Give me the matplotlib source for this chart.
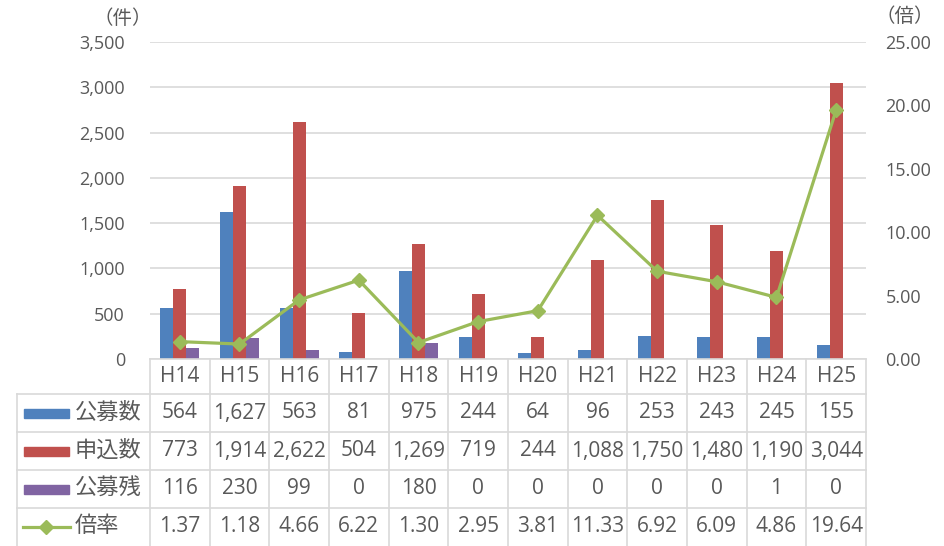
import numpy as np
import matplotlib
matplotlib.use("Agg")
from matplotlib import pyplot as plt
from matplotlib.lines import Line2D
from matplotlib.patches import Rectangle
from matplotlib.transforms import blended_transform_factory
from matplotlib.ticker import FuncFormatter, MultipleLocator

plt.rcParams["font.family"] = ["Open Sans", "Noto Sans CJK JP", "DejaVu Sans"]

years = ["H14", "H15", "H16", "H17", "H18", "H19", "H20", "H21", "H22", "H23", "H24", "H25"]
koubo = [564, 1627, 563, 81, 975, 244, 64, 96, 253, 243, 245, 155]
moushikomi = [773, 1914, 2622, 504, 1269, 719, 244, 1088, 1750, 1480, 1190, 3044]
zan = [116, 230, 99, 0, 180, 0, 0, 0, 0, 0, 1, 0]
bairitsu = [1.37, 1.18, 4.66, 6.22, 1.30, 2.95, 3.81, 11.33, 6.92, 6.09, 4.86, 19.64]
series_names = ["公募数", "申込数", "公募残", "倍率"]

BLUE = "#4F81BD"
RED = "#C0504D"
PURPLE = "#8064A2"
GREEN = "#9BBB59"
GRID = "#D9D9D9"
TXT = "#595959"

W, H = 945, 546


def fx(px):
    return px / W


def fy(py):
    return 1 - py / H


fig = plt.figure(figsize=(W / 100, H / 100), dpi=100)
ax = fig.add_axes([fx(150), fy(359), fx(866) - fx(150), fy(42) - fy(359)])

x = np.arange(len(years))
w = 0.218
ax.bar(x - w, koubo, w, color=BLUE, zorder=2)
ax.bar(x, moushikomi, w, color=RED, zorder=2)
ax.bar(x + w, zan, w, color=PURPLE, zorder=2)

ax.set_xlim(-0.5, len(years) - 0.5)
ax.set_ylim(0, 3500)
ax.yaxis.set_major_locator(MultipleLocator(500))
ax.yaxis.set_major_formatter(FuncFormatter(lambda v, p: f"{v:,.0f}"))
ax.yaxis.grid(True, color=GRID, lw=1.2)
ax.set_axisbelow(True)
ax.set_xticks([])
ax.tick_params(axis="y", length=0, pad=18, labelsize=13, labelcolor=TXT)
for s in ax.spines.values():
    s.set_visible(False)

ax2 = ax.twinx()
ax2.plot(x, bairitsu, color=GREEN, lw=2.3, marker="D", ms=7.5, zorder=3)
ax2.set_ylim(0, 25)
ax2.yaxis.set_major_locator(MultipleLocator(5))
ax2.yaxis.set_major_formatter(FuncFormatter(lambda v, p: f"{v:.2f}"))
ax2.tick_params(axis="y", length=0, pad=14, labelsize=13, labelcolor=TXT)
for s in ax2.spines.values():
    s.set_visible(False)

fig.text(fx(123), fy(19), "（件）", ha="center", va="center", fontsize=14, color=TXT)
fig.text(fx(905), fy(17), "（倍）", ha="center", va="center", fontsize=14, color=TXT)

# data table under the plot
tr = blended_transform_factory(ax.transData, fig.transFigure)
line_kw = dict(color=GRID, lw=1.2, clip_on=False)

row_edges = [359, 394, 432, 470, 508, 546]
for i, py in enumerate(row_edges[:-1]):
    x0 = 17 if i > 0 else 150
    fig.add_artist(Line2D([fx(x0), fx(866)], [fy(py), fy(py)], **line_kw))
fig.add_artist(Line2D([fx(17), fx(17)], [fy(394), fy(546)], **line_kw))
for k in range(len(years) + 1):
    ax.plot([k - 0.5, k - 0.5], [fy(359), fy(546)], transform=tr, **line_kw)

header_y = fy((row_edges[0] + row_edges[1]) / 2)
for i, yr in enumerate(years):
    ax.text(i, header_y, yr, transform=tr, ha="center", va="center",
            fontsize=15, color=TXT)

rows = [
    [f"{v:,}" for v in koubo],
    [f"{v:,}" for v in moushikomi],
    [f"{v:,}" for v in zan],
    [f"{v:.2f}" for v in bairitsu],
]
colors = [BLUE, RED, PURPLE, GREEN]
for r, (cells, name, col) in enumerate(zip(rows, series_names, colors)):
    cy = (row_edges[r + 1] + row_edges[r + 2]) / 2
    for i, s in enumerate(cells):
        ax.text(i, fy(cy), s, transform=tr, ha="center", va="center",
                fontsize=15, color=TXT)
    if r < 3:
        fig.add_artist(Rectangle((fx(24), fy(cy + 4.5)), fx(69) - fx(24), 9 / H,
                                 color=col, transform=fig.transFigure))
    else:
        fig.add_artist(Line2D([fx(23), fx(70)], [fy(cy), fy(cy)], color=col, lw=2.3))
        fig.add_artist(Line2D([fx(46.5)], [fy(cy)], color=col, marker="D", ms=7.5))
    fig.text(fx(75), fy(cy), name, ha="left", va="center", fontsize=16, color=TXT)

fig.savefig("out.png", dpi=100)
